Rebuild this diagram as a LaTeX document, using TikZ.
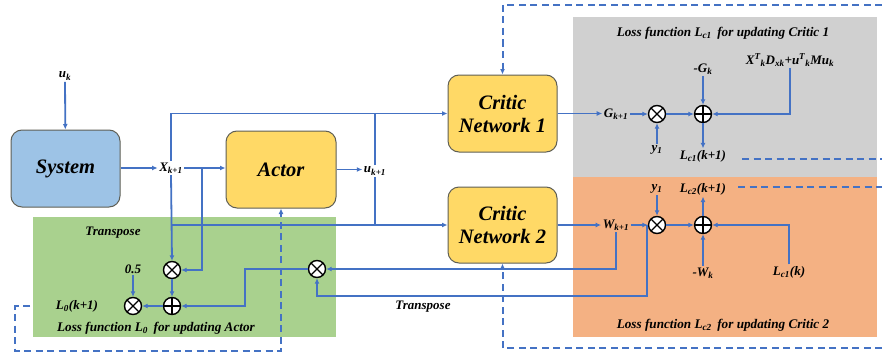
\documentclass[tikz,border=0pt]{standalone}
\usepackage{fontspec}
\setmainfont{Liberation Serif}
\usetikzlibrary{arrows.meta}
\definecolor{lineblue}{HTML}{4472C4}
\definecolor{sysfill}{HTML}{9DC3E6}
\definecolor{netfill}{HTML}{FFD966}
\definecolor{boxedge}{HTML}{5F5F55}
\definecolor{greenzone}{HTML}{A9D18E}
\definecolor{grayzone}{HTML}{D0D0D0}
\definecolor{orangezone}{HTML}{F4B183}
\begin{document}
\begin{tikzpicture}[x=1pt,y=-1pt,
  wire/.style={lineblue, line width=1.8pt, -{Latex[length=5.5pt,width=5pt]}},
  plain/.style={lineblue, line width=1.8pt},
  dashwire/.style={lineblue, line width=2pt, dash pattern=on 7pt off 4.5pt},
  block/.style={draw=boxedge, line width=1pt, rounded corners=11pt,
    minimum width=109pt, minimum height=77pt, align=center,
    font=\bfseries\itshape\fontsize{20.5}{23}\selectfont},
  lbl/.style={font=\bfseries\itshape\fontsize{13}{14}\selectfont, inner sep=1.5pt},
  title/.style={font=\bfseries\itshape\fontsize{13.2}{15}\selectfont, inner sep=1pt},
  junction/.style={circle, draw=black, line width=1.4pt, fill=white,
    minimum size=17pt, inner sep=0pt},
  mult/.style={junction, path picture={
    \draw[black, line width=1.3pt]
      (path picture bounding box.north west) -- (path picture bounding box.south east)
      (path picture bounding box.north east) -- (path picture bounding box.south west);}},
  summ/.style={junction, path picture={
    \draw[black, line width=1.3pt]
      (path picture bounding box.north) -- (path picture bounding box.south)
      (path picture bounding box.west) -- (path picture bounding box.east);}}
]
\useasboundingbox (0,0) rectangle (882,353);
\fill[white] (0,0) rectangle (882,353);

% shaded regions for the three loss functions
\fill[grayzone] (573,17) rectangle (877,177);
\fill[orangezone] (573,177) rectangle (877,337);
\fill[greenzone] (33,217) rectangle (336,337);

% main blocks
\node[block, fill=sysfill] (sys) at (65.5,168.5) {System};
\node[block, fill=netfill, minimum width=110pt] (actor) at (281,169.5) {Actor};
\node[block, fill=netfill] (c1) at (502.5,113.5) {Critic\\Network 1};
\node[block, fill=netfill, minimum height=76pt] (c2) at (502.5,225) {Critic\\Network 2};

% signal labels
\node[lbl] (uk) at (65,76) {u\textsubscript{k}};
\node[lbl] (xk) at (171,168) {X\textsubscript{k+1}};
\node[lbl] (uk1) at (375,171) {u\textsubscript{k+1}};
\node[lbl] (Gk1) at (616,114) {G\textsubscript{k+1}};
\node[lbl] (Wk1) at (616,225) {W\textsubscript{k+1}};

% critic 1 loss
\node[title] at (723,33) {Loss function L\textsubscript{c1}\, for updating Critic 1};
\node[lbl] (quad) at (790,60) {X\textsuperscript{T}\textsubscript{k}D\textsubscript{xk}+u\textsuperscript{T}\textsubscript{k}Mu\textsubscript{k}};
\node[lbl] (mGk) at (703,69) {-G\textsubscript{k}};
\node[mult] (m4) at (657,114) {};
\node[summ] (p2) at (703,114) {};
\node[lbl] (y1a) at (657,150) {y\textsubscript{1}};
\node[lbl] (Lc1) at (703,156) {L\textsubscript{c1}(k+1)};

% critic 2 loss
\node[title] at (723,325) {Loss function L\textsubscript{c2}\, for updating Critic 2};
\node[lbl] (y1b) at (657,189) {y\textsubscript{1}};
\node[lbl] (Lc2) at (703,189) {L\textsubscript{c2}(k+1)};
\node[mult] (m3) at (657,225) {};
\node[summ] (p3) at (703,225) {};
\node[lbl] (mWk) at (703,273) {-W\textsubscript{k}};
\node[lbl] (Lc1k) at (789,272) {L\textsubscript{c1}(k)};

% actor loss
\node[lbl] at (113,233) {Transpose};
\node[lbl] at (423,307) {Transpose};
\node[title] at (156,328) {Loss function L\textsubscript{0}\, for updating Actor};
\node[lbl] (half) at (133,269) {0.5};
\node[lbl] (L0) at (77,306) {L\textsubscript{0}(k+1)};
\node[mult] (m1) at (172,270) {};
\node[summ] (p1) at (172,306) {};
\node[mult] (m0) at (133,306) {};
\node[mult] (m2) at (317,269) {};

% forward signal flow
\draw[wire] (uk) -- (sys);
\draw[wire] (sys.east |- xk.west) -- (xk.west);
\draw[wire] (xk.east) -- (xk.east -| actor.west);
\draw[wire] (xk.north) |- (c1.west);
\draw[wire] (xk.south) -- (m1.north);
\draw[wire] (xk.south |- c2.west) -- (c2.west);
\coordinate (tap) at (202,168);
\draw[wire] (tap) |- (m1.east);
\draw[wire] (actor.east) -- (actor.east -| uk1.west);
\draw[plain] (uk1.north) -- (uk1.north |- c1.west);
\draw[plain] (uk1.south) -- (uk1.south |- c2.west);

% actor loss wiring
\draw[wire] (m1) -- (p1);
\draw[wire] (p1) -- (m0);
\draw[wire] (half) -- (m0);
\draw[wire] (m2.west) -- (245,269) |- (p1.east);
\draw[wire] (Wk1.south) |- (m2.east);
\coordinate (wtap) at (647,225);
\draw[wire] (wtap) -- (647,296) -| (m2.south);

% critic 1 loss wiring
\draw[wire] (c1.east) -- (c1.east -| Gk1.west);
\draw[wire] (Gk1) -- (m4);
\draw[wire] (m4) -- (p2);
\draw[wire] (y1a) -- (m4);
\draw[wire] (mGk) -- (p2);
\draw[wire] (p2) -- (Lc1);
\draw[wire] (quad.south) |- (p2.east);

% critic 2 loss wiring
\draw[wire] (c2.east) -- (c2.east -| Wk1.west);
\draw[wire] (Wk1.east) -- (m3.west);
\draw[wire] (m3) -- (p3);
\draw[wire] (y1b) -- (m3);
\draw[wire] (p3) -- (Lc2);
\draw[wire] (mWk) -- (p3);
\draw[wire] (Lc1k.north) |- (p3.east);

% weight update paths
\coordinate (topright) at (882,5);
\coordinate (botright) at (882,348);
\draw[dashwire, -{Latex[length=5.5pt,width=5pt]}] (topright) -- (c1.north |- topright) -- (c1.north);
\draw[dashwire, -{Latex[length=5.5pt,width=5pt]}] (botright) -- (c2.south |- botright) -- (c2.south);
\draw[dashwire] (742,159) -- (882,159);
\draw[dashwire] (738,187) -- (882,187);
\coordinate (l0end) at (30,306);
\draw[dashwire, -{Latex[length=5.5pt,width=5pt]}] (l0end) -- (15,306) -- (15,351) -- (actor.south |- 0,351) -- (actor.south);
\end{tikzpicture}
\end{document}
